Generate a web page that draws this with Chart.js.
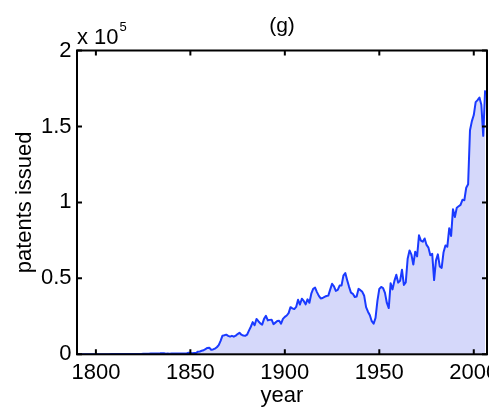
<!DOCTYPE html>
<html>
<head>
<meta charset="utf-8">
<script src="https://cdn.jsdelivr.net/npm/chart.js@4"></script>
<style>
  html, body { margin: 0; padding: 0; background: #ffffff; }
  #wrap { width: 489px; height: 409px; }
</style>
</head>
<body>
<div id="wrap"><canvas id="chart" width="489" height="409"></canvas></div>
<script>
// Patents issued per year
const years = [
  1790, 1791, 1792, 1793, 1794, 1795, 1796, 1797, 1798, 1799,
  1800, 1801, 1802, 1803, 1804, 1805, 1806, 1807, 1808, 1809,
  1810, 1811, 1812, 1813, 1814, 1815, 1816, 1817, 1818, 1819,
  1820, 1821, 1822, 1823, 1824, 1825, 1826, 1827, 1828, 1829,
  1830, 1831, 1832, 1833, 1834, 1835, 1836, 1837, 1838, 1839,
  1840, 1841, 1842, 1843, 1844, 1845, 1846, 1847, 1848, 1849,
  1850, 1851, 1852, 1853, 1854, 1855, 1856, 1857, 1858, 1859,
  1860, 1861, 1862, 1863, 1864, 1865, 1866, 1867, 1868, 1869,
  1870, 1871, 1872, 1873, 1874, 1875, 1876, 1877, 1878, 1879,
  1880, 1881, 1882, 1883, 1884, 1885, 1886, 1887, 1888, 1889,
  1890, 1891, 1892, 1893, 1894, 1895, 1896, 1897, 1898, 1899,
  1900, 1901, 1902, 1903, 1904, 1905, 1906, 1907, 1908, 1909,
  1910, 1911, 1912, 1913, 1914, 1915, 1916, 1917, 1918, 1919,
  1920, 1921, 1922, 1923, 1924, 1925, 1926, 1927, 1928, 1929,
  1930, 1931, 1932, 1933, 1934, 1935, 1936, 1937, 1938, 1939,
  1940, 1941, 1942, 1943, 1944, 1945, 1946, 1947, 1948, 1949,
  1950, 1951, 1952, 1953, 1954, 1955, 1956, 1957, 1958, 1959,
  1960, 1961, 1962, 1963, 1964, 1965, 1966, 1967, 1968, 1969,
  1970, 1971, 1972, 1973, 1974, 1975, 1976, 1977, 1978, 1979,
  1980, 1981, 1982, 1983, 1984, 1985, 1986, 1987, 1988, 1989,
  1990, 1991, 1992, 1993, 1994, 1995, 1996, 1997, 1998, 1999,
  2000, 2001, 2002, 2003, 2004, 2005, 2006
];

const patentsIssued = [
  3, 33, 11, 20, 22, 12, 44, 51, 28, 44,
  41, 44, 65, 97, 84, 57, 63, 99, 158, 203,
  223, 215, 238, 181, 210, 173, 206, 174, 222, 156,
  155, 168, 200, 173, 228, 304, 323, 331, 368, 447,
  544, 573, 474, 586, 630, 752, 702, 426, 514, 404,
  458, 490, 488, 493, 478, 473, 566, 495, 583, 984,
  883, 752, 885, 844, 1755, 1881, 2302, 2674, 3455, 4160,
  4357, 3020, 3214, 3773, 4630, 6088, 8863, 12277, 12526, 12931,
  12137, 11659, 12180, 11616, 12230, 13291, 14172, 12920, 12345, 12133,
  12903, 15548, 18135, 21162, 19118, 23285, 21767, 20403, 19551, 23324,
  25313, 22328, 22661, 22768, 19875, 20856, 21867, 22098, 20188, 23278,
  24644, 25546, 27136, 31029, 30258, 29775, 31170, 35859, 32757, 36561,
  35141, 32856, 36198, 33917, 39892, 43118, 43892, 40935, 38452, 36797,
  37060, 37798, 38369, 38616, 42574, 46432, 44733, 41717, 42357, 45267,
  45226, 51756, 53504, 48774, 44420, 40618, 39831, 37683, 38061, 43073,
  42238, 41109, 38514, 31054, 28053, 25695, 21803, 20139, 23963, 35131,
  43040, 44326, 43616, 40468, 33809, 30432, 46817, 42744, 48330, 52408,
  47170, 48368, 55691, 45679, 47375, 62857, 68406, 65652, 59104, 67559,
  64429, 78317, 74810, 74143, 76278, 72000, 70226, 65269, 66102, 48854,
  61819, 65771, 57888, 56860, 67200, 71661, 70860, 82952, 77924, 95537,
  90365, 96511, 97444, 98342, 101676, 101419, 109645, 111984, 147517, 153485,
  157494, 166035, 167331, 169023, 164290, 143806, 173772
];

const xTicks = [1800, 1850, 1900, 1950, 2000];
const yTicks = [0, 50000, 100000, 150000, 200000];
const yTickLabels = ['0', '0.5', '1', '1.5', '2'];

const titleText = '(g)';
const xTitle = 'year';
const yTitle = 'patents issued';
const exponentBase = 'x 10';
const exponentPower = '5';

const FONT = '"Liberation Sans", Arial, Helvetica, sans-serif';

// Framed axes box with inward tick marks on all four sides
const boxPlugin = {
  id: 'boxFrame',
  afterDatasetsDraw(chart) {
    const { ctx, chartArea: a, scales } = chart;
    const tickLen = 5;
    ctx.save();
    ctx.strokeStyle = '#000000';
    ctx.lineWidth = 2;
    ctx.beginPath();
    xTicks.forEach(v => {
      const px = scales.x.getPixelForValue(v);
      ctx.moveTo(px, a.bottom); ctx.lineTo(px, a.bottom - tickLen);
      ctx.moveTo(px, a.top); ctx.lineTo(px, a.top + tickLen);
    });
    yTicks.forEach(v => {
      const py = scales.y.getPixelForValue(v);
      ctx.moveTo(a.left, py); ctx.lineTo(a.left + tickLen, py);
      ctx.moveTo(a.right, py); ctx.lineTo(a.right - tickLen, py);
    });
    ctx.stroke();
    ctx.strokeRect(a.left, a.top, a.right - a.left, a.bottom - a.top);
    ctx.restore();
  },
  afterDraw(chart) {
    // y-axis scale factor label above the top-left corner
    const { ctx, chartArea: a } = chart;
    ctx.save();
    ctx.fillStyle = '#000000';
    ctx.textAlign = 'left';
    ctx.textBaseline = 'alphabetic';
    ctx.font = '22px ' + FONT;
    ctx.fillText(exponentBase, a.left, 43.5);
    const w = ctx.measureText(exponentBase).width;
    ctx.font = '13px ' + FONT;
    ctx.fillText(exponentPower, a.left + w + 1, 31);
    ctx.restore();
  }
};

new Chart(document.getElementById('chart'), {
  type: 'line',
  data: {
    datasets: [{
      data: years.map((yr, i) => ({ x: yr, y: patentsIssued[i] })),
      borderColor: '#1a3aff',
      backgroundColor: 'rgb(213, 216, 250)',
      borderWidth: 2,
      pointRadius: 0,
      tension: 0,
      fill: 'origin',
      borderJoinStyle: 'round'
    }]
  },
  options: {
    responsive: false,
    animation: false,
    devicePixelRatio: 1,
    layout: { padding: { top: 0, right: 2, bottom: 0, left: 0 } },
    plugins: {
      legend: { display: false },
      tooltip: { enabled: false },
      title: {
        display: true,
        fullSize: false,
        text: titleText,
        color: '#000000',
        font: { family: FONT, size: 21, weight: 'normal' },
        padding: { top: 13.4, bottom: 11.9 }
      }
    },
    scales: {
      x: {
        type: 'linear',
        min: 1790,
        max: 2007,
        grid: { display: false, drawTicks: false },
        border: { display: false },
        afterBuildTicks: s => { s.ticks = xTicks.map(v => ({ value: v })); },
        afterFit: s => { s.height = 54.7; s.paddingLeft = 0; s.paddingRight = 0; },
        ticks: {
          autoSkip: false,
          maxRotation: 0,
          padding: 5.5,
          color: '#000000',
          font: { family: FONT, size: 22 },
          callback: v => String(v)
        },
        title: {
          display: true,
          text: xTitle,
          color: '#000000',
          font: { family: FONT, size: 22 },
          padding: { top: 0, bottom: 0 }
        }
      },
      y: {
        type: 'linear',
        min: 0,
        max: 200000,
        grid: { display: false, drawTicks: false },
        border: { display: false },
        afterBuildTicks: s => { s.ticks = yTicks.map(v => ({ value: v })); },
        afterFit: s => { s.width = 77; s.paddingTop = 0; s.paddingBottom = 0; },
        ticks: {
          padding: 5.5,
          color: '#000000',
          font: { family: FONT, size: 22 },
          callback: v => yTickLabels[yTicks.indexOf(v)]
        },
        title: {
          display: true,
          text: yTitle,
          color: '#000000',
          font: { family: FONT, size: 22 },
          padding: { top: 12, bottom: 0 }
        }
      }
    }
  },
  plugins: [boxPlugin]
});
</script>
</body>
</html>
